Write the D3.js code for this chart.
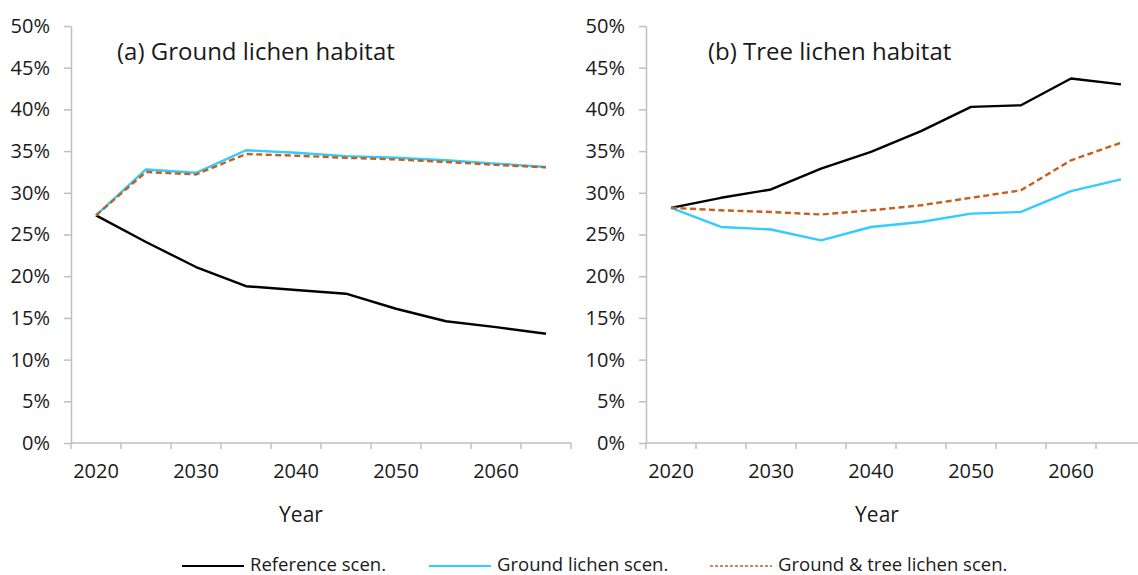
<!DOCTYPE html>
<meta charset="utf-8">
<head>
  <title>Lichen habitat</title>
</head>

<style>
  body { margin: 0; background: #fff; }
  text { font-family: "Open Sans", sans-serif; fill: #1a1a1a; }
  .axis path, .axis line { stroke: #bfbfbf; stroke-width: 1.5; }
  .axis text { font-size: 20px; fill: #1a1a1a; }
</style>

<body>

  <div id="my_dataviz"></div>

  <script src="https://d3js.org/d3.v7.min.js"></script>

	<script>

	// categories on the x axis (every 5 years), only every other one is labelled
	var years = [2020, 2025, 2030, 2035, 2040, 2045, 2050, 2055, 2060, 2065];
	var tickYears = [2020, 2030, 2040, 2050, 2060];
	var yTicks = [0, 5, 10, 15, 20, 25, 30, 35, 40, 45, 50];

	var seriesNames = ["Reference scen.", "Ground lichen scen.", "Ground & tree lichen scen."];
	var panelTitles = ["(a) Ground lichen habitat", "(b) Tree lichen habitat"];

	// (a) ground lichen habitat, % of area
	var groundRef    = [27.3, 24.1, 21.1, 18.8, 18.35, 17.9, 16.1, 14.6, 13.9, 13.1];
	var groundGround = [27.3, 32.8, 32.4, 35.1, 34.8, 34.4, 34.2, 33.9, 33.5, 33.1];
	var groundBoth   = [27.3, 32.5, 32.2, 34.65, 34.45, 34.2, 34.0, 33.7, 33.35, 33.05];

	// (b) tree lichen habitat, % of area
	var treeRef    = [28.2, 29.4, 30.4, 32.9, 34.9, 37.4, 40.3, 40.5, 43.7, 43.0];
	var treeGround = [28.2, 25.9, 25.6, 24.3, 25.9, 26.5, 27.5, 27.7, 30.2, 31.6];
	var treeBoth   = [28.2, 27.9, 27.7, 27.4, 27.9, 28.5, 29.4, 30.3, 33.9, 36.0];

	// line styles per scenario
	var colors = ["#000000", "#33ccff", "#c55f1e"];
	var dashes = [null, null, "6,3.5"];

	var svg = d3.select("#my_dataviz")
	  .append("svg")
		.attr("width", 1138)
		.attr("height", 575);

	var panels = [
	  {title: panelTitles[0], series: [groundRef, groundGround, groundBoth], x0: 71, titleX: 117, yearX: 301},
	  {title: panelTitles[1], series: [treeRef, treeGround, treeBoth], x0: 646, titleX: 708, yearX: 877}
	];

	var plotTop = 26, plotBottom = 443, bandW = 50;

	var y = d3.scaleLinear()
	  .domain([0, 50])
	  .range([plotBottom, plotTop]);

	panels.forEach(function(p) {
	  var g = svg.append("g");

	  var x = d3.scaleBand()
		.domain(years)
		.range([p.x0, p.x0 + bandW * years.length])
		.padding(0);

	  // Y axis
	  g.append("g")
		.attr("class", "axis")
		.attr("transform", "translate(" + p.x0 + ",0)")
		.call(d3.axisLeft(y).tickValues(yTicks).tickSize(7).tickPadding(14)
		  .tickFormat(function(d) { return d + "%"; }).tickSizeOuter(0));

	  // X axis: labels at category centres
	  var xa = g.append("g")
		.attr("class", "axis")
		.attr("transform", "translate(0," + plotBottom + ")")
		.call(d3.axisBottom(x).tickValues(tickYears).tickSize(0).tickPadding(21).tickSizeOuter(0));
	  xa.select(".domain").remove();

	  // x axis line and tick marks between categories
	  var bounds = years.map(function(d) { return x(d); }).concat([x(years[years.length - 1]) + x.bandwidth()]);
	  g.append("line")
		.attr("x1", bounds[0]).attr("x2", bounds[bounds.length - 1])
		.attr("y1", plotBottom).attr("y2", plotBottom)
		.attr("stroke", "#bfbfbf").attr("stroke-width", 1.5);
	  g.selectAll(".xtick")
		.data(bounds)
		.enter().append("line")
		  .attr("x1", function(d) { return d; })
		  .attr("x2", function(d) { return d; })
		  .attr("y1", plotBottom)
		  .attr("y2", plotBottom + 6)
		  .attr("stroke", "#bfbfbf").attr("stroke-width", 1.5);

	  // the lines, drawn back to front
	  var line = d3.line()
		.x(function(d, i) { return x(years[i]) + x.bandwidth() / 2; })
		.y(function(d) { return y(d); });

	  [0, 1, 2].forEach(function(k) {
		g.append("path")
		  .datum(p.series[k])
		  .attr("fill", "none")
		  .attr("stroke", colors[k])
		  .attr("stroke-width", 2.4)
		  .attr("stroke-linejoin", "round")
		  .attr("stroke-dasharray", dashes[k])
		  .attr("d", line);
	  });

	  // panel title
	  g.append("text")
		.attr("x", p.titleX)
		.attr("y", 60)
		.style("font-size", "24px")
		.text(p.title);

	  // axis title
	  g.append("text")
		.attr("x", p.yearX)
		.attr("y", 522)
		.attr("text-anchor", "middle")
		.style("font-size", "21px")
		.text("Year");
	});

	// legend at the bottom
	var legendX = [182, 429, 710];
	var legend = svg.append("g");
	seriesNames.forEach(function(name, k) {
	  legend.append("line")
		.attr("x1", legendX[k]).attr("x2", legendX[k] + 62)
		.attr("y1", 566).attr("y2", 566)
		.attr("stroke", colors[k])
		.attr("stroke-width", k == 2 ? 1.6 : 2)
		.attr("stroke-dasharray", k == 2 ? "3,2" : null);
	  legend.append("text")
		.attr("x", legendX[k] + 68)
		.attr("y", 571)
		.style("font-size", "18.5px")
		.text(name);
	});

	</script>
</body>
</html>
